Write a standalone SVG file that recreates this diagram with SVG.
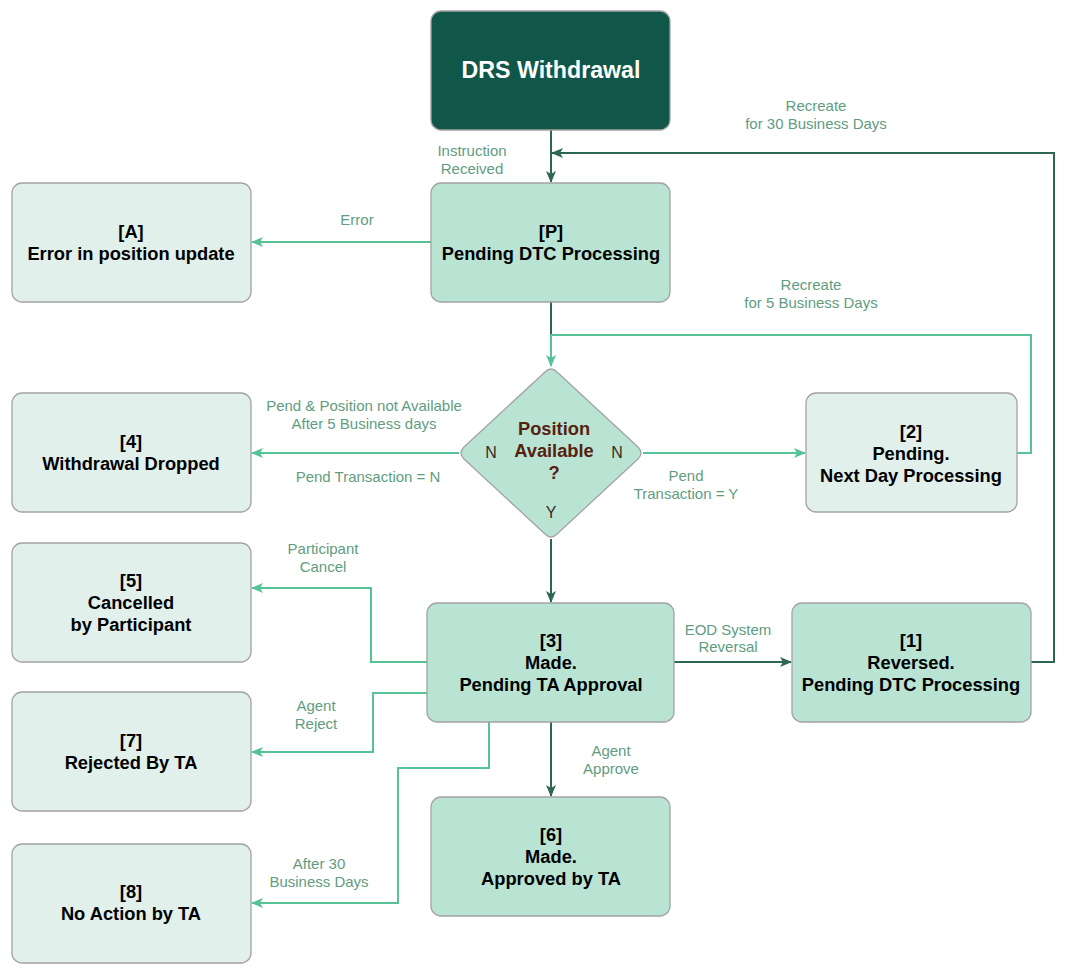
<svg xmlns="http://www.w3.org/2000/svg" width="1065" height="975" viewBox="0 0 1065 975">
<style>
.box{stroke:#a3a3a3;stroke-width:1.3}
.dark{fill:#10574a}
.mid{fill:#b9e4d3}
.light{fill:#e1f0ea}
.nt{font-family:"Liberation Sans",Arial,sans-serif;font-size:18.3px;font-weight:bold;fill:#000;text-anchor:middle;dominant-baseline:central}
.title{font-family:"Liberation Sans",Arial,sans-serif;font-size:23.2px;font-weight:bold;fill:#fff;text-anchor:middle;dominant-baseline:central}
.dt{font-family:"Liberation Sans",Arial,sans-serif;font-size:18.3px;font-weight:bold;fill:#561f0f;text-anchor:middle;dominant-baseline:central}
.yn{font-family:"Liberation Sans",Arial,sans-serif;font-size:16px;fill:#3d2a20;text-anchor:middle;dominant-baseline:central}
.lbl{font-family:"Liberation Sans",Arial,sans-serif;font-size:15px;fill:#5f9c82;text-anchor:middle;dominant-baseline:central}
.cd{fill:none;stroke:#2d6652;stroke-width:2}
.cl{fill:none;stroke:#55c396;stroke-width:2}
</style>
<defs>
<marker id="ad" viewBox="0 0 12 10" refX="11" refY="5" markerWidth="12" markerHeight="10" markerUnits="userSpaceOnUse" orient="auto">
<path d="M0,0 L12,5 L0,10 L3,5 z" fill="#2d6652"/>
</marker>
<marker id="al" viewBox="0 0 12 10" refX="11" refY="5" markerWidth="12" markerHeight="10" markerUnits="userSpaceOnUse" orient="auto">
<path d="M0,0 L12,5 L0,10 L3,5 z" fill="#55c396"/>
</marker>
</defs>
<rect width="1065" height="975" fill="#fff"/>
<g id="connectors">
<path class="cd" d="M551,130 V182" marker-end="url(#ad)"/>
<path class="cd" d="M1031,662 H1054 V153 H552" marker-end="url(#ad)"/>
<path class="cl" d="M431,242 H252" marker-end="url(#al)"/>
<path class="cd" d="M551,302 V340"/>
<path class="cl" d="M1017,453 H1031 V335 H551 V366" marker-end="url(#al)"/>
<path class="cl" d="M459,453 H252" marker-end="url(#al)"/>
<path class="cl" d="M643,453 H805" marker-end="url(#al)"/>
<path class="cd" d="M551,539 V602" marker-end="url(#ad)"/>
<path class="cl" d="M427,662 H371 V588 H252" marker-end="url(#al)"/>
<path class="cl" d="M427,693 H373 V752 H252" marker-end="url(#al)"/>
<path class="cl" d="M489,722 V768 H398 V903 H252" marker-end="url(#al)"/>
<path class="cd" d="M551,722 V796" marker-end="url(#ad)"/>
<path class="cd" d="M674,662 H791" marker-end="url(#ad)"/>
</g>
<g id="labels">
<text class="lbl" x="472" y="150">Instruction</text>
<text class="lbl" x="472" y="168">Received</text>
<text class="lbl" x="816" y="105">Recreate</text>
<text class="lbl" x="816" y="123">for 30 Business Days</text>
<text class="lbl" x="357" y="219">Error</text>
<text class="lbl" x="811" y="284">Recreate</text>
<text class="lbl" x="811" y="302">for 5 Business Days</text>
<text class="lbl" x="364" y="405">Pend &amp; Position not Available</text>
<text class="lbl" x="364" y="423">After 5 Business days</text>
<text class="lbl" x="368" y="476">Pend Transaction = N</text>
<text class="lbl" x="686" y="475">Pend</text>
<text class="lbl" x="686" y="493">Transaction = Y</text>
<text class="lbl" x="323" y="548">Participant</text>
<text class="lbl" x="323" y="566">Cancel</text>
<text class="lbl" x="728" y="629">EOD System</text>
<text class="lbl" x="728" y="646">Reversal</text>
<text class="lbl" x="316" y="705">Agent</text>
<text class="lbl" x="316" y="723">Reject</text>
<text class="lbl" x="611" y="750">Agent</text>
<text class="lbl" x="611" y="768">Approve</text>
<text class="lbl" x="319" y="863">After 30</text>
<text class="lbl" x="319" y="881">Business Days</text>
</g>
<g id="node-drs">
<rect class="box dark" x="431" y="11" width="239" height="119" rx="10"/>
<text class="title" x="551" y="70">DRS Withdrawal</text>
</g>
<g id="node-p">
<rect class="box mid" x="431" y="183" width="239" height="119" rx="10"/>
<text class="nt" x="551" y="231">[P]</text>
<text class="nt" x="551" y="253">Pending DTC Processing</text>
</g>
<g id="node-a">
<rect class="box light" x="12" y="183" width="239" height="119" rx="10"/>
<text class="nt" x="131" y="231">[A]</text>
<text class="nt" x="131" y="253">Error in position update</text>
</g>
<g id="node-decision">
<path class="box mid" d="M545,372 Q551,366 557,372 L638,447 Q644,453 638,459 L557,534 Q551,540 545,534 L464,459 Q458,453 464,447 Z"/>
<text class="dt" x="554" y="428">Position</text>
<text class="dt" x="554" y="450">Available</text>
<text class="dt" x="554" y="472">?</text>
<text class="yn" x="491" y="452">N</text>
<text class="yn" x="617" y="452">N</text>
<text class="yn" x="551" y="512">Y</text>
</g>
<g id="node-4">
<rect class="box light" x="12" y="393" width="239" height="119" rx="10"/>
<text class="nt" x="131" y="441">[4]</text>
<text class="nt" x="131" y="463">Withdrawal Dropped</text>
</g>
<g id="node-2">
<rect class="box light" x="806" y="393" width="211" height="119" rx="10"/>
<text class="nt" x="911" y="431">[2]</text>
<text class="nt" x="911" y="453">Pending.</text>
<text class="nt" x="911" y="475">Next Day Processing</text>
</g>
<g id="node-5">
<rect class="box light" x="12" y="543" width="239" height="119" rx="10"/>
<text class="nt" x="131" y="580">[5]</text>
<text class="nt" x="131" y="602">Cancelled</text>
<text class="nt" x="131" y="624">by Participant</text>
</g>
<g id="node-3">
<rect class="box mid" x="427" y="603" width="247" height="119" rx="10"/>
<text class="nt" x="551" y="640">[3]</text>
<text class="nt" x="551" y="662">Made.</text>
<text class="nt" x="551" y="684">Pending TA Approval</text>
</g>
<g id="node-1">
<rect class="box mid" x="792" y="603" width="239" height="119" rx="10"/>
<text class="nt" x="911" y="640">[1]</text>
<text class="nt" x="911" y="662">Reversed.</text>
<text class="nt" x="911" y="684">Pending DTC Processing</text>
</g>
<g id="node-7">
<rect class="box light" x="12" y="692" width="239" height="119" rx="10"/>
<text class="nt" x="131" y="740">[7]</text>
<text class="nt" x="131" y="762">Rejected By TA</text>
</g>
<g id="node-6">
<rect class="box mid" x="431" y="797" width="239" height="119" rx="10"/>
<text class="nt" x="551" y="834">[6]</text>
<text class="nt" x="551" y="856">Made.</text>
<text class="nt" x="551" y="878">Approved by TA</text>
</g>
<g id="node-8">
<rect class="box light" x="12" y="844" width="239" height="119" rx="10"/>
<text class="nt" x="131" y="891">[8]</text>
<text class="nt" x="131" y="913">No Action by TA</text>
</g>
</svg>
